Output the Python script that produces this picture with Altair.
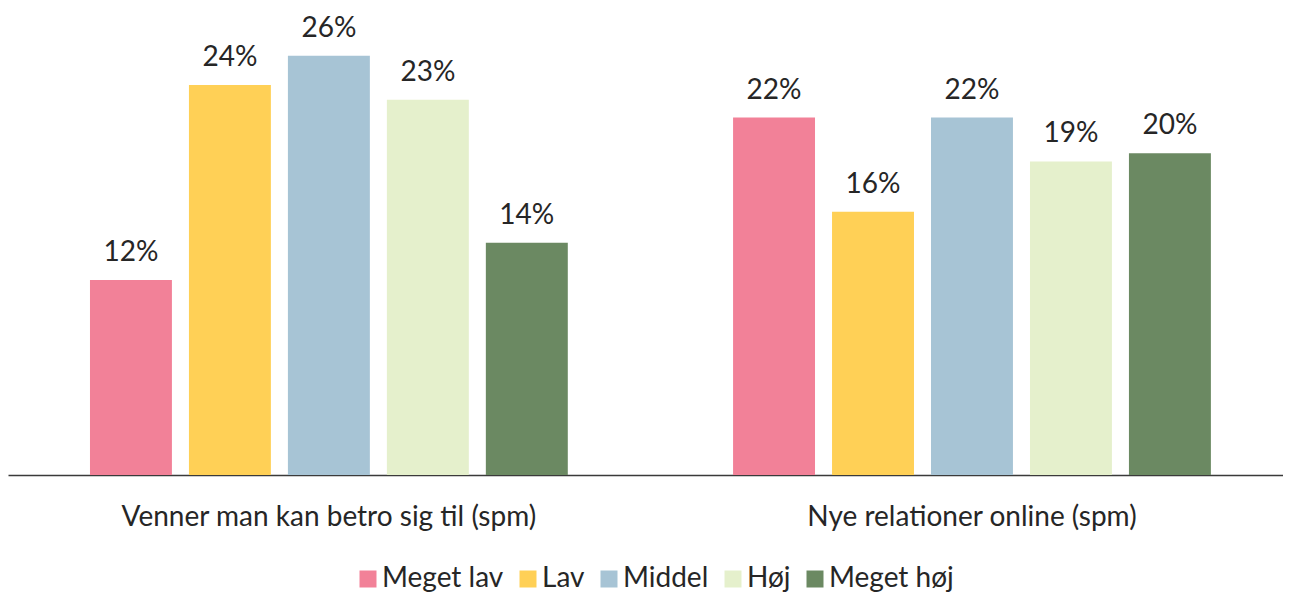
import altair as alt
import pandas as pd

groups = ["Venner man kan betro sig til (spm)", "Nye relationer online (spm)"]
levels = ["Meget lav", "Lav", "Middel", "Høj", "Meget høj"]
venner = [12.0, 24.0, 25.8, 23.1, 14.3]
online = [22.0, 16.2, 22.0, 19.3, 19.8]
labels_venner = ["12%", "24%", "26%", "23%", "14%"]
labels_online = ["22%", "16%", "22%", "19%", "20%"]
colors = ["#F28198", "#FFD056", "#A7C4D5", "#E5F0CC", "#6B8962"]

rows = []
for g, vals, labs in [(groups[0], venner, labels_venner), (groups[1], online, labels_online)]:
    for lev, v, lab in zip(levels, vals, labs):
        rows.append({"group": g, "level": lev, "value": v, "label": lab})
df = pd.DataFrame(rows)

FONT = "Lato"
TXT = "#262626"
FS = 28

x = alt.X("group:N", sort=groups, title=None,
          scale=alt.Scale(paddingInner=0.257, paddingOuter=0.1198, align=0.532),
          axis=alt.Axis(labelAngle=0, ticks=False, tickSize=0, labelPadding=28,
                        labelFontSize=FS, labelFont=FONT, labelColor=TXT, labelLimit=0,
                        domainColor="#3a3a3a", domainWidth=1.5, grid=False))
xo = alt.XOffset("level:N", sort=levels,
                 scale=alt.Scale(paddingInner=0.172, paddingOuter=0))
y = alt.Y("value:Q", scale=alt.Scale(domain=[0, 28], nice=False), axis=None)

bars = alt.Chart(df).mark_bar().encode(
    x=x, xOffset=xo, y=y,
    color=alt.Color("level:N", sort=levels,
                    scale=alt.Scale(domain=levels, range=colors),
                    legend=alt.Legend(title=None, orient="none", direction="horizontal",
                                      legendX=346, legendY=545,
                                      symbolType="square", symbolSize=289,
                                      symbolStrokeWidth=0, labelFontSize=FS,
                                      labelFont=FONT, labelColor=TXT,
                                      labelOffset=0, columnPadding=10)),
)
text = alt.Chart(df).mark_text(baseline="alphabetic", dy=-19, fontSize=FS,
                               font=FONT, color=TXT).encode(
    x=x, xOffset=xo, y=y, text="label:N")

chart = (bars + text).properties(
    width=1275, height=455,
    autosize=alt.AutoSizeParams(type="none"),
    padding={"left": 0, "right": 0, "top": 12, "bottom": 119},
).configure_view(stroke=None)

chart.save("out.html", embed_options={"renderer": "svg", "actions": False})
